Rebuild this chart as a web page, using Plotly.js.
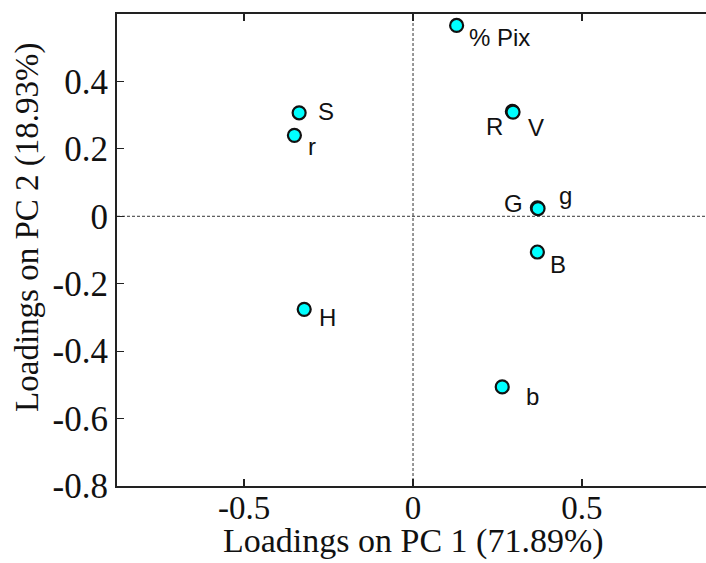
<!DOCTYPE html>
<html>
<head>
<meta charset="utf-8">
<script src="https://cdn.plot.ly/plotly-3.0.1.min.js"></script>
<style>
  html, body { margin: 0; padding: 0; background: #ffffff; }
  #chart { width: 706px; height: 563px; }
</style>
</head>
<body>
<div id="chart"></div>
<script>
// PCA loadings of the colour / pixel variables
const variables = ['% Pix', 'R', 'V', 'G', 'g', 'B', 'S', 'r', 'H', 'b'];
const pc1 = [0.129, 0.294, 0.296, 0.368, 0.370, 0.368, -0.337, -0.351, -0.322, 0.264];
const pc2 = [0.566, 0.311, 0.309, 0.025, 0.023, -0.106, 0.307, 0.240, -0.276, -0.506];

// label offsets in pixels from each marker (right, down)
const labelDx = [43, -18, 23, -24, 27, 21, 27, 18, 23, 30];
const labelDy = [12, 15, 15, -4, -13, 12, -1, 11.5, 8, 10];

const xTicks = [-0.5, 0, 0.5];
const xTickText = ['-0.5', '0', '0.5'];
const yTicks = [-0.8, -0.6, -0.4, -0.2, 0, 0.2, 0.4];
const yTickText = ['-0.8', '-0.6', '-0.4', '-0.2', '0', '0.2', '0.4'];

const xTitle = 'Loadings on PC 1 (71.89%)';
const yTitle = 'Loadings on PC 2 (18.93%)';

const serif = 'Liberation Serif, Times New Roman, serif';
const sans = 'Liberation Sans, Arial, sans-serif';

const trace = {
  type: 'scatter',
  mode: 'markers',
  x: pc1,
  y: pc2,
  text: variables,
  hoverinfo: 'text',
  marker: {
    size: 13,
    color: '#00ffff',
    line: { color: '#111111', width: 2.2 }
  },
  showlegend: false
};

const annotations = variables.map((name, i) => ({
  x: pc1[i],
  y: pc2[i],
  xref: 'x',
  yref: 'y',
  text: name,
  showarrow: false,
  xanchor: 'center',
  yanchor: 'middle',
  xshift: labelDx[i],
  yshift: -labelDy[i],
  font: { family: sans, size: 24, color: '#111111' }
}));

// vertical axis title, placed a little above the plot's middle
annotations.push({
  xref: 'paper',
  yref: 'paper',
  x: -0.151,
  y: 0.547,
  xanchor: 'center',
  yanchor: 'middle',
  textangle: -90,
  showarrow: false,
  text: yTitle,
  font: { family: serif, size: 33, color: '#111111' }
});

// horizontal axis title
annotations.push({
  xref: 'x',
  yref: 'paper',
  x: 0,
  y: 0,
  xanchor: 'center',
  yanchor: 'middle',
  yshift: -55,
  showarrow: false,
  text: xTitle,
  font: { family: serif, size: 34, color: '#111111' }
});

const dashed = { color: '#333333', width: 1, dash: '3px,2px' };
const shapes = [
  { type: 'line', xref: 'x', yref: 'paper', x0: 0, x1: 0, y0: 0, y1: 1, line: dashed, layer: 'below' },
  { type: 'line', xref: 'paper', yref: 'y', x0: 0, x1: 1, y0: 0, y1: 0, line: dashed, layer: 'below' }
];

const layout = {
  width: 706,
  height: 563,
  margin: { l: 117, r: 0, t: 14, b: 77 },
  paper_bgcolor: '#ffffff',
  plot_bgcolor: '#ffffff',
  showlegend: false,
  xaxis: {
    range: [-0.876, 0.867],
    tickmode: 'array',
    tickvals: xTicks,
    ticktext: xTickText,
    ticks: 'inside',
    ticklen: 7,
    tickwidth: 1.2,
    tickcolor: '#222222',
    ticklabelstandoff: -9,
    showgrid: false,
    zeroline: false,
    showline: true,
    linecolor: '#222222',
    linewidth: 2,
    mirror: 'ticks',
    tickfont: { family: serif, size: 33, color: '#111111' }
  },
  yaxis: {
    range: [-0.8, 0.6],
    tickmode: 'array',
    tickvals: yTicks,
    ticktext: yTickText,
    ticks: 'inside',
    ticklen: 7,
    tickwidth: 1.2,
    tickcolor: '#222222',
    showgrid: false,
    zeroline: false,
    showline: true,
    linecolor: '#222222',
    linewidth: 2,
    tickfont: { family: serif, size: 35, color: '#111111' }
  },
  shapes: shapes,
  annotations: annotations
};

Plotly.newPlot('chart', [trace], layout, { displayModeBar: false, staticPlot: true });
</script>
</body>
</html>
